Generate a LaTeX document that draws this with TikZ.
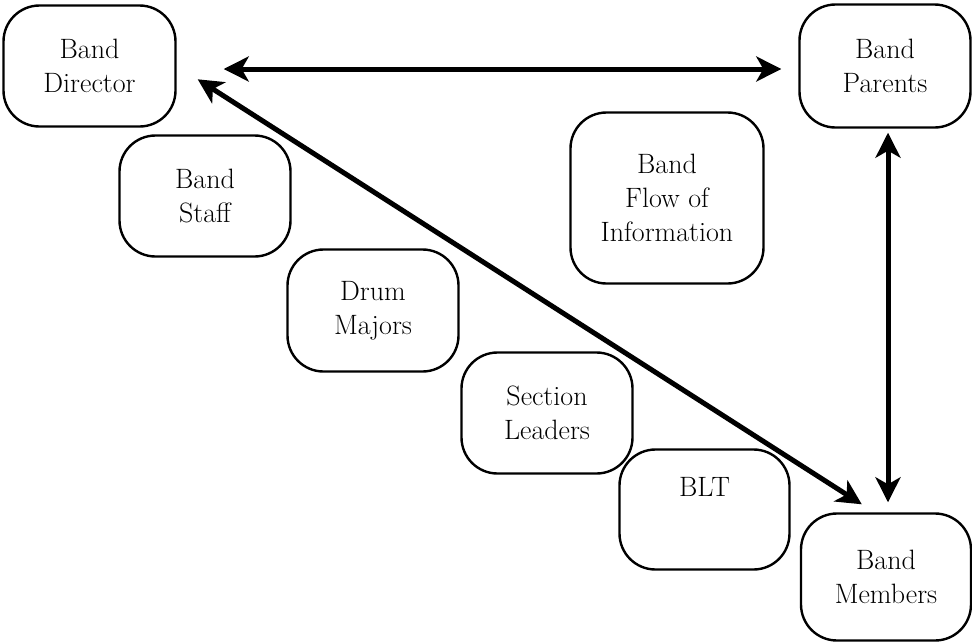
\documentclass[tikz,border=0pt]{standalone}
\usetikzlibrary{arrows.meta,calc}
\begin{document}
\begin{tikzpicture}[x=1pt,y=-1pt,
  bx/.style={draw, line width=2.4pt, rounded corners=36pt, align=center,
    inner sep=0pt, font=\fontsize{28}{34}\selectfont},
  arr/.style={line width=5pt, {Stealth[length=25pt,width=25pt,inset=7pt]}-{Stealth[length=25pt,width=25pt,inset=7pt]}}]
\useasboundingbox (0,0) rectangle (972,643);
\node[bx, minimum width=172pt, minimum height=121pt] (dir) at (89.5,66) {Band\\Director};
\node[bx, minimum width=171pt, minimum height=123pt] (par) at (885,66) {Band\\Parents};
\node[bx, minimum width=170pt, minimum height=127pt] (mem) at (886,577) {Band\\Members};
\node[bx, minimum width=171pt, minimum height=121pt] (staff) at (205,196) {Band\\Staff};
\node[bx, minimum width=171pt, minimum height=122pt] (drum) at (373,310.5) {Drum\\Majors};
\node[bx, minimum width=171pt, minimum height=121pt] (sect) at (547,413) {Section\\Leaders};
\node[bx, minimum width=170pt, minimum height=120pt] (blt) at (704.5,509.5) {BLT\\\strut};
\node[bx, minimum width=193pt, minimum height=171pt] (flow) at (667,198) {Band\\Flow of\\Information};
\draw[arr] ($(dir.east)+(47,3)$) -- ($(par.west)+(-17,3)$);
\draw[arr] ($(dir.north east)+(21,75)$) -- ($(mem.north west)+(62,-8)$);
\draw[arr] ($(par.south)+(3,4)$) -- ($(mem.north)+(2,-10)$);
\end{tikzpicture}
\end{document}
